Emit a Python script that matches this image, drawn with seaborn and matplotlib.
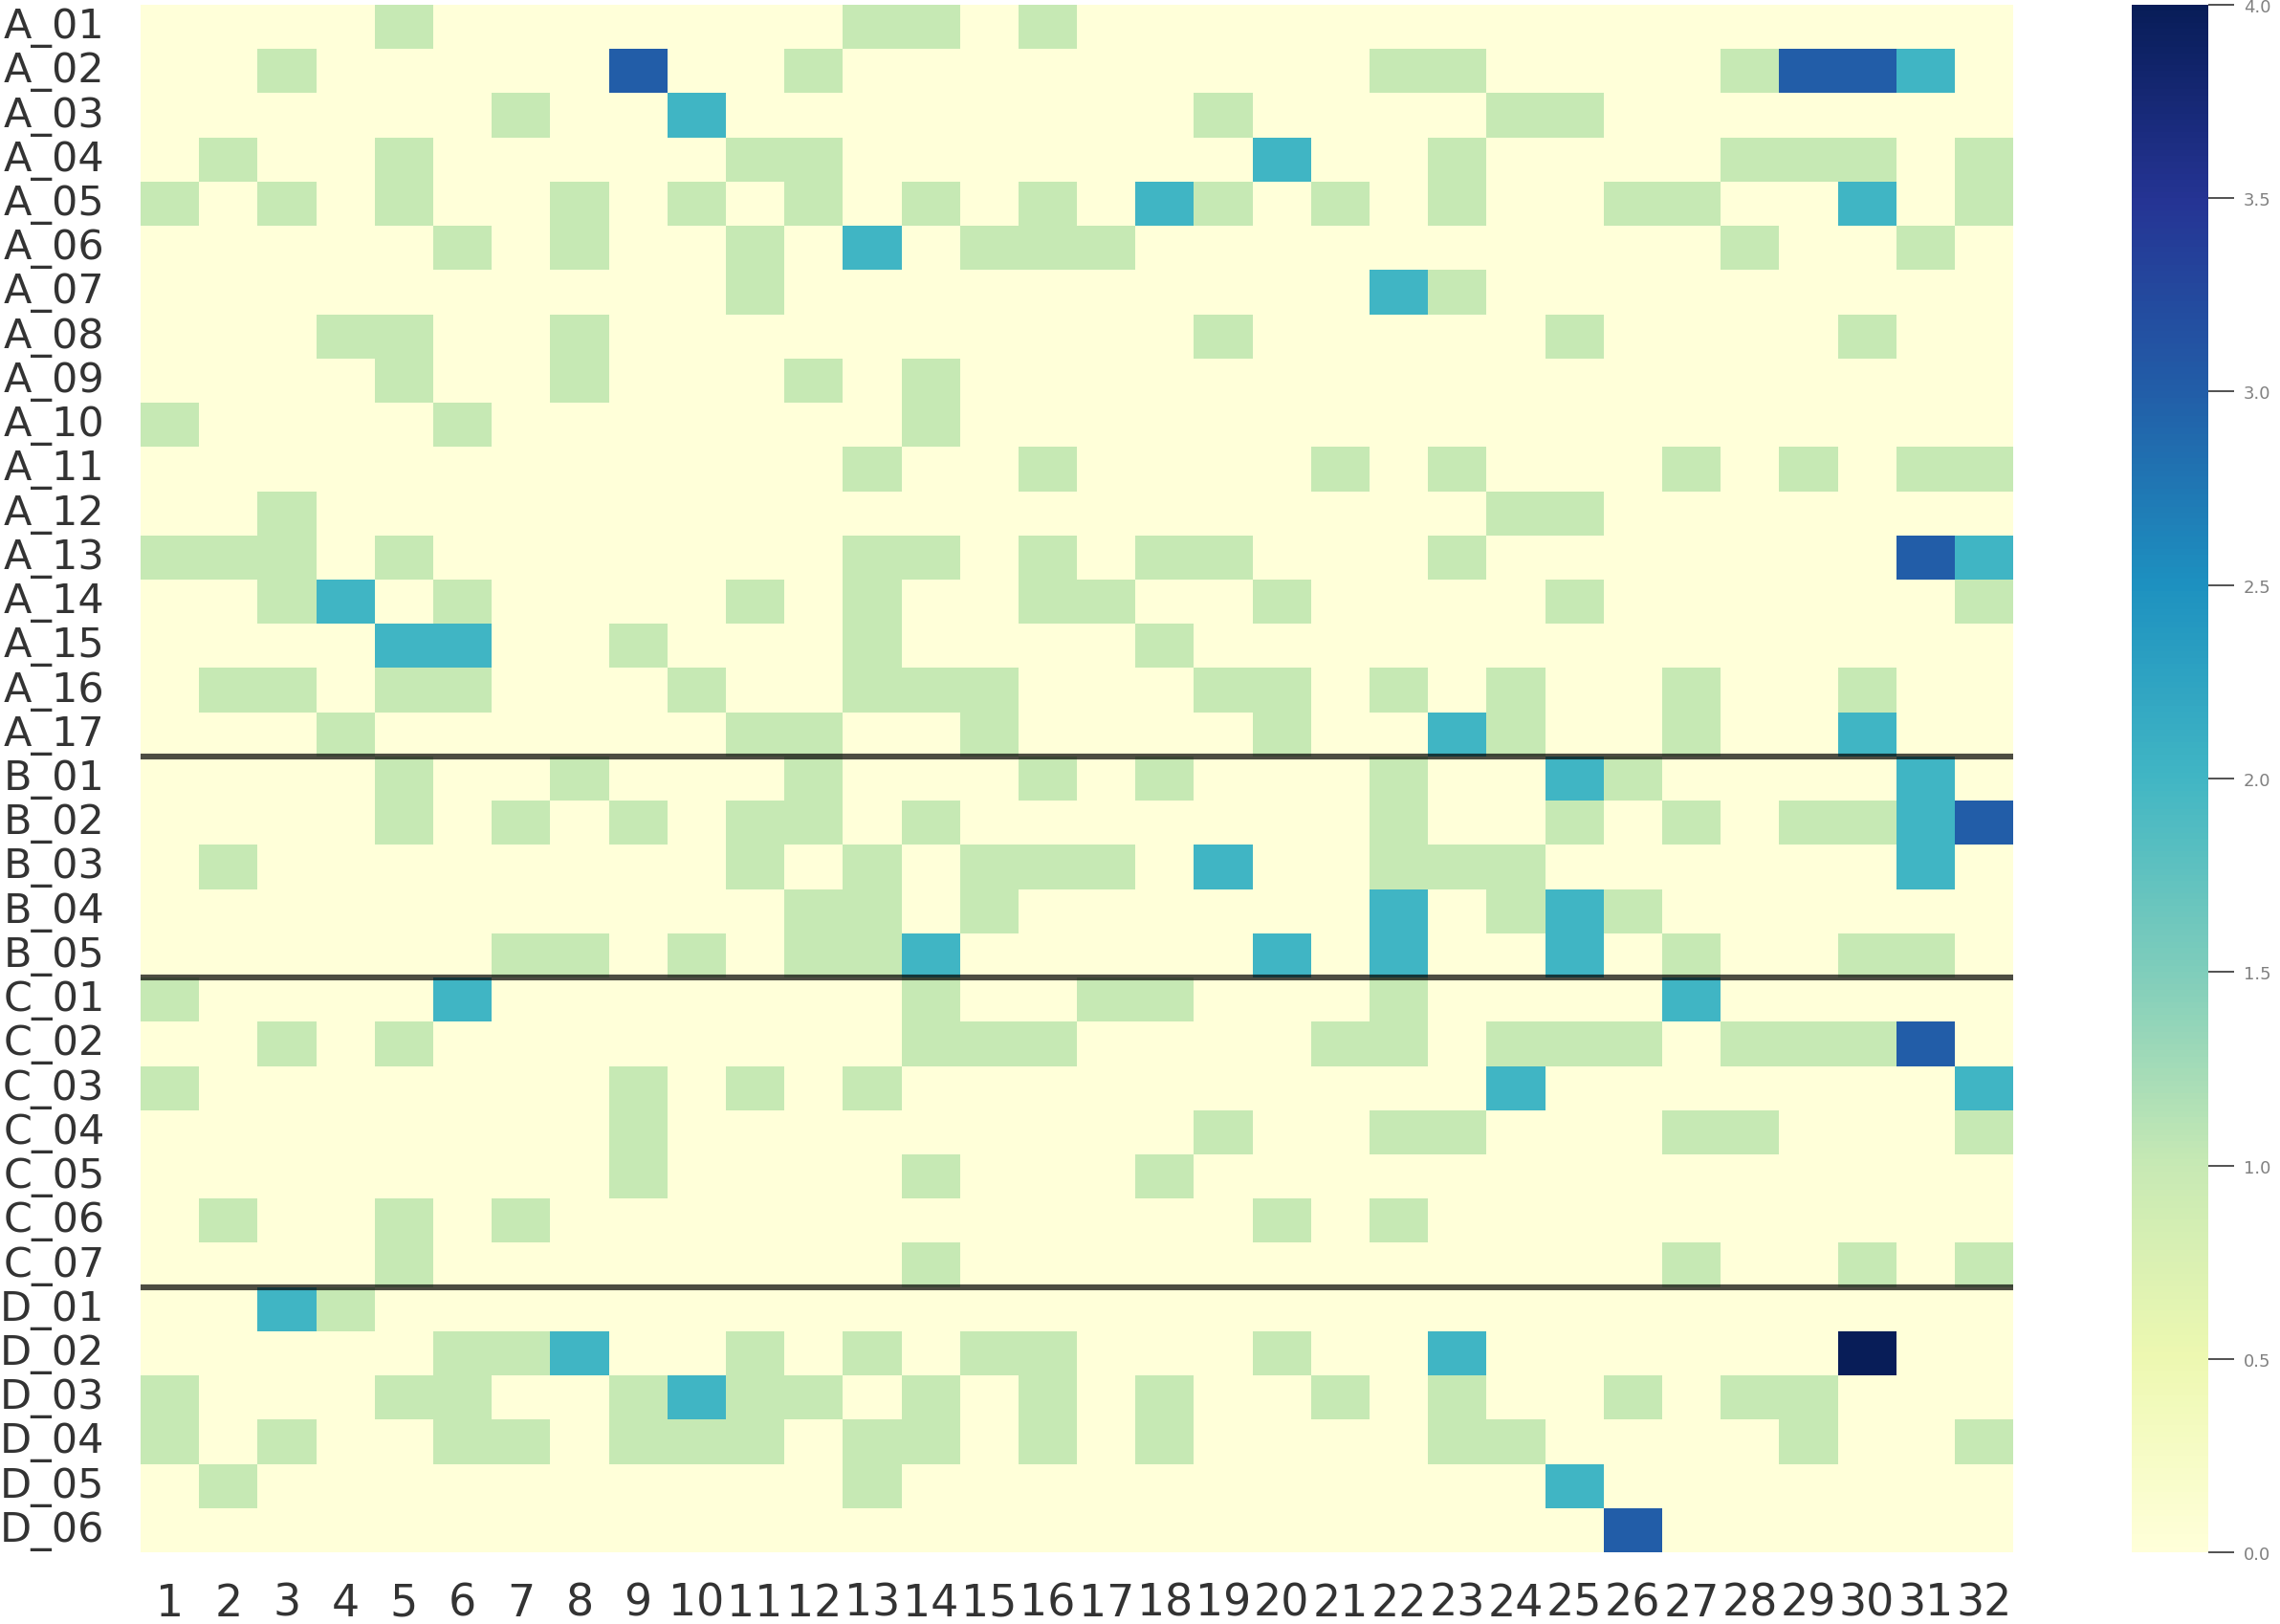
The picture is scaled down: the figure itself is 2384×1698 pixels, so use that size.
import matplotlib
matplotlib.use("Agg")
import matplotlib.pyplot as plt
import pandas as pd
import seaborn as sns

# column labels 1..32
columns = [str(i) for i in range(1, 33)]

rows_a = ["A_%02d" % i for i in range(1, 18)]
rows_b = ["B_%02d" % i for i in range(1, 6)]
rows_c = ["C_%02d" % i for i in range(1, 8)]
rows_d = ["D_%02d" % i for i in range(1, 7)]

# one string per row, one digit per column (blocks of 8 columns)
group_a = [
    "00001000 00001101 00000000 00000000",  # A_01
    "00100000 30010000 00000110 00013320",  # A_02
    "00000010 02000000 00100001 10000000",  # A_03
    "01001000 00110000 00020010 00011101",  # A_04
    "10101001 01010101 02101010 01100201",  # A_05
    "00000101 00102011 10000000 00010010",  # A_06
    "00000000 00100000 00000210 00000000",  # A_07
    "00011001 00000000 00100000 10000100",  # A_08
    "00001001 00010100 00000000 00000000",  # A_09
    "10000100 00000100 00000000 00000000",  # A_10
    "00000000 00001001 00001010 00101011",  # A_11
    "00100000 00000000 00000001 10000000",  # A_12
    "11101000 00001101 01100010 00000032",  # A_13
    "00120100 00101001 10010000 10000001",  # A_14
    "00002200 10001000 01000000 00000000",  # A_15
    "01101100 01001110 00110101 00100100",  # A_16
    "00010000 00110010 00010021 00100200",  # A_17
]
group_b = [
    "00001001 00010001 01000100 21000020",  # B_01
    "00001010 10110100 00000100 10101123",  # B_02
    "01000000 00101011 10200111 00000020",  # B_03
    "00000000 00011010 00000201 21000000",  # B_04
    "00000011 01011200 00020200 20100110",  # B_05
]
group_c = [
    "10000200 00000100 11000100 00200000",  # C_01
    "00101000 00000111 00001101 11011130",  # C_02
    "10000000 10101000 00000002 00000002",  # C_03
    "00000000 10000000 00100110 00110001",  # C_04
    "00000000 10000100 01000000 00000000",  # C_05
    "01001010 00000000 00010100 00000000",  # C_06
    "00001000 00000100 00000000 00100101",  # C_07
]
group_d = [
    "00210000 00000000 00000000 00000000",  # D_01
    "00000112 00101011 00010020 00000400",  # D_02
    "10001100 12110101 01001010 01011000",  # D_03
    "10100110 11101101 01000011 00001001",  # D_04
    "01000000 00001000 00000000 20000000",  # D_05
    "00000000 00000000 00000000 03000000",  # D_06
]

rows = rows_a + rows_b + rows_c + rows_d
values = [[int(c) for c in s.replace(" ", "")] for s in group_a + group_b + group_c + group_d]
df = pd.DataFrame(values, index=rows, columns=columns)

# group boundaries
splits = [len(rows_a), len(rows_a) + len(rows_b), len(rows_a) + len(rows_b) + len(rows_c)]

sns.set_style("white")
fig = plt.figure(figsize=(11.92, 8.495), dpi=200)
ax = fig.add_axes([0.0617, 0.0441, 0.8213, 0.9524])
cax = fig.add_axes([0.935, 0.0441, 0.0336, 0.9524])

sns.heatmap(df, cmap="YlGnBu", vmin=0, vmax=4, ax=ax, cbar_ax=cax,
            xticklabels=True, yticklabels=True)

for y in splits:
    ax.axhline(y, color="black", alpha=0.7, lw=2.2)

ax.tick_params(axis="x", length=0, labelsize=16.5, labelcolor="0.2", pad=11)
ax.tick_params(axis="y", length=0, labelsize=15.5, labelcolor="0.2", pad=13.5)
plt.setp(ax.get_yticklabels(), rotation=0)
plt.setp(ax.get_xticklabels(), rotation=0)

cax.tick_params(labelsize=6.5, length=9.7, width=0.6, color="0.2",
                labelcolor="0.5", pad=3.6)

fig.savefig("out.png", dpi=200)
